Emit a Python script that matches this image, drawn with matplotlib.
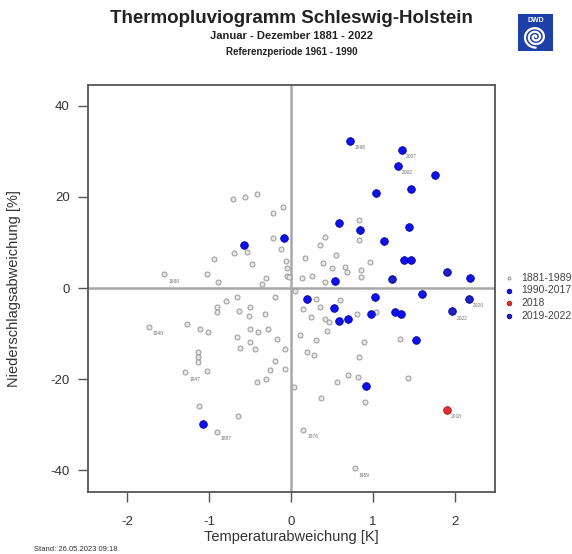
import numpy as np
import matplotlib
matplotlib.use("Agg")
import matplotlib.pyplot as plt
from matplotlib.patches import Rectangle

plt.rcParams['font.family'] = ['Liberation Sans', 'DejaVu Sans']
plt.rcParams['axes.unicode_minus'] = False

# Temperatur- [K] und Niederschlagsabweichung [%] je Jahr
old_t = [-0.71, -0.56, -0.41, -0.22, -0.10, -0.22, -0.70, -0.54, -0.94, -0.48,
         -0.06, -0.05, -1.55, -1.03, -0.89, -0.30, -0.05, 0.83, 0.83, 0.41,
         0.35, 0.17, 0.96, 0.39, 0.50, 0.66, 0.68, 0.85, 0.86, 0.13,
         0.25, -0.03, 0.41, -0.66, -0.90, -0.90, -0.20, -0.63, -0.50, -0.51,
         -0.32, -1.27, -1.11, -1.01, -1.74, -0.66, -0.50, -0.40, -0.28, -0.17,
         -0.50, -0.62, -0.44, -0.07, -1.14, -1.14, -1.14, -0.20, -0.26, -0.07,
         -1.03, -1.29, -0.30, -0.42, -1.13, -0.65, -0.91, 0.31, 0.35, 0.15,
         0.60, 0.24, 0.41, 0.46, 0.80, 1.04, 0.44, 0.11, 0.31, 0.89,
         1.33, 0.28, 0.83, 0.70, 0.82, 0.56, 1.43, 0.37, 0.90, 0.03,
         0.15, 0.78, -0.80, -0.36, 0.05, 0.55, -0.12, 0.20]
old_p = [19.5, 20.1, 20.6, 16.4, 17.7, 11.1, 7.8, 8.0, 6.4, 5.3,
         6.0, 4.3, 3.0, 3.0, 1.3, 2.1, 2.6, 15.0, 10.5, 11.3,
         9.5, 6.7, 5.8, 5.4, 4.5, 4.7, 3.6, 4.0, 2.5, 2.1,
         2.6, 2.5, 1.4, -1.9, -4.1, -5.2, -1.9, -5.1, -4.1, -6.1,
         -5.6, -7.8, -8.9, -9.6, -8.5, -10.7, -8.9, -9.6, -9.1, -11.1,
         -11.8, -13.1, -13.3, -13.3, -14.0, -15.1, -16.2, -16.0, -18.0, -17.7,
         -18.2, -18.5, -19.9, -20.7, -25.9, -28.1, -31.6, -2.3, -4.1, -4.5,
         -2.6, -6.3, -6.7, -7.4, -5.6, -5.2, -9.4, -10.3, -11.4, -11.8,
         -11.1, -14.6, -15.1, -19.1, -19.5, -20.6, -19.7, -24.2, -25.0, -21.7,
         -31.2, -39.6, -2.8, 0.8, -0.6, 7.2, 8.6, -14.0]

mid_t = [0.72, 1.35, 1.30, 1.76, 1.46, 1.04, 0.59, 0.84, 1.44, -0.085,
         1.13, 1.38, 1.47, 2.19, 0.54, -0.58, 0.19, 1.02, 1.60, 0.52,
         0.59, 0.70, 0.98, 1.27, 1.34, 1.53, 0.92, -1.08]
mid_p = [32.3, 30.3, 26.8, 24.8, 21.8, 20.9, 14.2, 12.7, 13.5, 11.1,
         10.3, 6.2, 6.2, 2.3, 1.5, 9.4, -2.3, -1.9, -1.3, -4.3,
         -7.2, -6.7, -5.8, -5.2, -5.8, -11.4, -21.5, -29.9]

year18_t = [1.90]
year18_p = [-26.8]

new_t = [1.91, 2.17, 1.23, 1.97]
new_p = [3.5, -2.3, 1.9, -5.1]

# beschriftete Jahre
lab_years = ['1998', '2007', '2002', '2020', '2022', '2018',
             '1888', '1940', '1947', '1887', '1976', '1959']
lab_t = [0.72, 1.35, 1.30, 2.17, 1.97, 1.90,
         -1.55, -1.74, -1.29, -0.91, 0.15, 0.78]
lab_p = [32.3, 30.3, 26.8, -2.3, -5.1, -26.8,
         3.0, -8.5, -18.5, -31.6, -31.2, -39.6]

fig = plt.figure(figsize=(5.72, 5.54), dpi=100)
ax = fig.add_axes([0.1538, 0.1119, 0.7115, 0.7347])

ax.axhline(0, color='#a8a8a8', lw=1.8, zorder=1)
ax.axvline(0, color='#a8a8a8', lw=1.8, zorder=1)

ax.scatter(old_t, old_p, s=13, facecolor='#e6e6e6', edgecolor='#9a9a9a',
           linewidth=0.7, zorder=2, label='1881-1989')
ax.scatter(mid_t, mid_p, s=30, color='#1010ee', edgecolor='#0000a0',
           linewidth=0.6, zorder=3, label='1990-2017')
ax.scatter(year18_t, year18_p, s=30, color='#e03030', edgecolor='#b01010',
           linewidth=0.6, zorder=3, label='2018')
ax.scatter(new_t, new_p, s=30, color='#2020c8', edgecolor='#000090',
           linewidth=0.6, zorder=3, label='2019-2022')

for yr, t, p in zip(lab_years, lab_t, lab_p):
    ax.annotate(yr, (t, p), xytext=(3, -6), textcoords='offset points',
                fontsize=3.5, color='#707070', zorder=4)

ax.set_xlim(-2.48, 2.49)
ax.set_ylim(-44.8, 44.6)
ax.set_xticks([-2, -1, 0, 1, 2])
ax.set_yticks([-40, -20, 0, 20, 40])
ax.tick_params(axis='both', length=7, width=1.0, color='#555555',
               labelsize=9.5, labelcolor='#333333')
ax.tick_params(axis='x', pad=10)
ax.tick_params(axis='y', pad=6)
ax.tick_params(top=False, right=False)
for sp in ax.spines.values():
    sp.set_color('#555555')
    sp.set_linewidth(1.3)

ax.set_xlabel('Temperaturabweichung [K]', fontsize=10.5, color='#333333', labelpad=2)
ax.set_ylabel('Niederschlagsabweichung [%]', fontsize=10.5, color='#333333')
ax.yaxis.set_label_coords(-0.165, 0.5)

ax.legend(loc='center left', bbox_to_anchor=(0.99, 0.48), frameon=False,
          fontsize=7.5, handletextpad=0.2, labelspacing=0.25, markerscale=0.6,
          borderaxespad=0.3, labelcolor='#444444')

fig.text(0.51, 0.967, 'Thermopluviogramm Schleswig-Holstein', ha='center',
         va='center', fontsize=13.5, fontweight='bold', color='#222222')
fig.text(0.51, 0.935, 'Januar - Dezember 1881 - 2022', ha='center',
         va='center', fontsize=8, fontweight='bold', color='#222222')
fig.text(0.51, 0.907, 'Referenzperiode 1961 - 1990', ha='center',
         va='center', fontsize=7, fontweight='bold', color='#222222')
fig.text(0.06, 0.006, 'Stand: 26.05.2023 09:18', fontsize=5.5, color='#333333')

# DWD-Logo oben rechts
lg = fig.add_axes([0.905, 0.908, 0.062, 0.066])
lg.set_xlim(0, 1)
lg.set_ylim(0, 1.1)
lg.axis('off')
lg.add_patch(Rectangle((0, 0), 1, 1.1, color='#1e3ea8'))
lg.text(0.5, 0.92, 'DWD', ha='center', va='center', fontsize=5,
        color='white', fontweight='bold')
th = np.linspace(0, 5.5 * np.pi, 300)
r = 0.02 + 0.3 * th / th.max()
lg.plot(0.5 + r * np.cos(th), 0.42 + r * np.sin(th), color='white', lw=1.6)

fig.savefig('out.png', dpi=100)
